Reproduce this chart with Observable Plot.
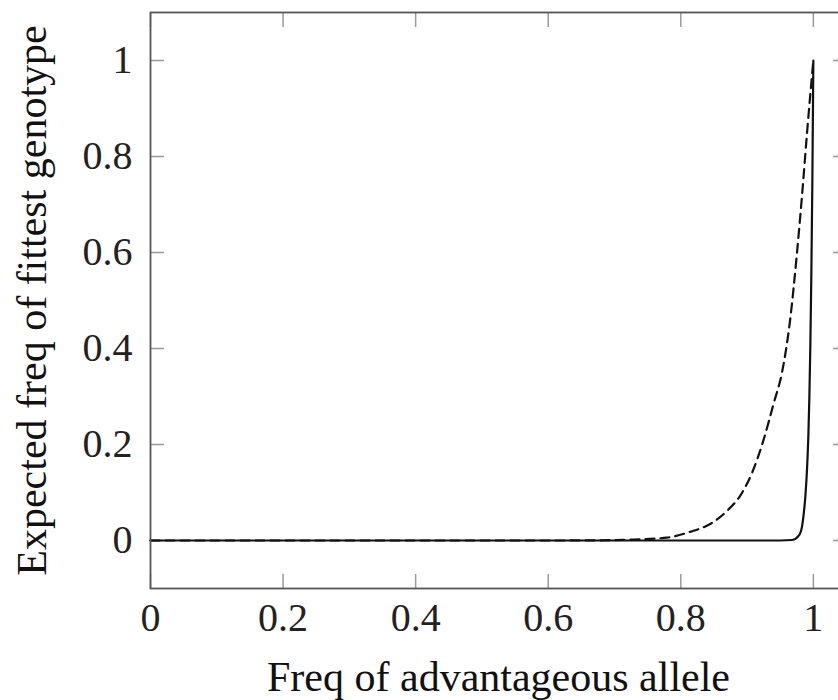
<!DOCTYPE html>
<html>
<head>
<meta charset="utf-8">
<script src="https://cdn.jsdelivr.net/npm/d3@7"></script>
<script src="https://cdn.jsdelivr.net/npm/@observablehq/plot@0.6"></script>
<style>
  html, body { margin: 0; padding: 0; background: #fff; }
  #chart { width: 838px; height: 700px; overflow: hidden; }
</style>
</head>
<body>
<div id="chart"></div>
<script>
// Tick values and labels
const xTicks = [0, 0.2, 0.4, 0.6, 0.8, 1];
const xTickLabels = ["0", "0.2", "0.4", "0.6", "0.8", "1"];
const yTicks = [0, 0.2, 0.4, 0.6, 0.8, 1];
const yTickLabels = ["0", "0.2", "0.4", "0.6", "0.8", "1"];
const xTitle = "Freq of advantageous allele";
const yTitle = "Expected freq of fittest genotype";

// Dashed curve
const dashedX = [0, 0.1, 0.2, 0.3, 0.4, 0.5, 0.6, 0.65, 0.7, 0.729, 0.779, 0.814, 0.845, 0.87, 0.89, 0.9075, 0.925, 0.94, 0.953, 0.965, 0.975, 0.983, 0.9905, 1.0];
const dashedY = [0, 0, 0, 0, 0, 0, 0, 0.0002, 0.0008, 0.002, 0.006, 0.018, 0.035, 0.062, 0.094, 0.141, 0.210, 0.285, 0.352, 0.46, 0.595, 0.72, 0.85, 1.0];

// Solid curve
const solidX = [0, 0.5, 0.9, 0.95, 0.968, 0.978, 0.983, 0.9855, 0.988, 0.9905, 0.9925, 0.994, 0.9955, 0.997, 0.9985, 1.0];
const solidY = [0, 0, 0, 0, 0.001, 0.01, 0.030, 0.056, 0.093, 0.15, 0.22, 0.30, 0.41, 0.56, 0.75, 1.0];

const dashed = dashedX.map((x, i) => ({x, y: dashedY[i]}));
const solid = solidX.map((x, i) => ({x, y: solidY[i]}));

const tickStyle = {stroke: "#9a9a9a", strokeWidth: 1.5, label: null, tickFormat: () => ""};

const chart = Plot.plot({
  width: 838,
  height: 700,
  marginLeft: 150,
  marginRight: -8,
  marginTop: 12,
  marginBottom: 112,
  style: {fontFamily: "'Liberation Serif', 'DejaVu Serif', serif", background: "#fff", color: "#222"},
  x: {domain: [0, 1.05]},
  y: {domain: [-0.1, 1.1]},
  marks: [
    // inward ticks on all four sides
    Plot.axisX(xTicks, {anchor: "bottom", tickSize: -14, ...tickStyle}),
    Plot.axisX(xTicks, {anchor: "top", tickSize: -14, ...tickStyle}),
    Plot.axisY(yTicks, {anchor: "left", tickSize: -14, ...tickStyle}),
    Plot.axisY(yTicks, {anchor: "right", tickSize: -14, ...tickStyle}),
    // tick labels
    Plot.axisX(xTicks, {anchor: "bottom", tickSize: 0, tickPadding: 14, fontSize: 40, label: null,
      tickFormat: (d, i) => xTickLabels[i]}),
    Plot.axisY(yTicks, {anchor: "left", tickSize: 0, tickPadding: 18, fontSize: 40, label: null,
      tickFormat: (d, i) => yTickLabels[i]}),
    // curves
    Plot.line(dashed, {x: "x", y: "y", stroke: "#111", strokeWidth: 2.2, strokeDasharray: "9,6", curve: "monotone-x"}),
    Plot.line(solid, {x: "x", y: "y", stroke: "#111", strokeWidth: 2.2, curve: "monotone-x"}),
    // frame
    Plot.frame({stroke: "#555", strokeWidth: 1.8}),
    // axis titles
    Plot.text([xTitle], {text: d => d, frameAnchor: "bottom", textAnchor: "middle", lineAnchor: "bottom", dy: 102, fontSize: 42, fill: "#111"}),
    Plot.text([yTitle], {text: d => d, frameAnchor: "left", textAnchor: "middle", lineAnchor: "bottom", rotate: -90, dx: -105, fontSize: 42, fill: "#111"})
  ]
});
document.getElementById("chart").appendChild(chart);
</script>
</body>
</html>
